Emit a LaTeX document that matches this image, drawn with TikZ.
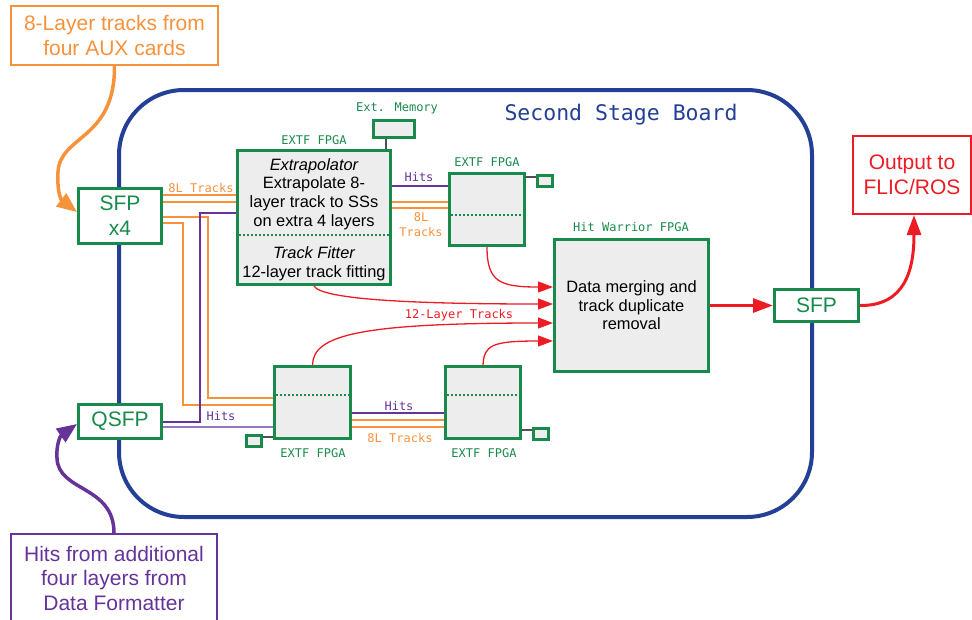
\documentclass[tikz,border=0pt]{standalone}
\usepackage{fontspec}
\setmainfont{Liberation Sans}
\newfontfamily\codefont{DejaVu Sans Mono}
\usetikzlibrary{arrows.meta}
\definecolor{boardblue}{RGB}{35,64,150}
\definecolor{chipgreen}{RGB}{24,138,76}
\definecolor{chipgray}{RGB}{237,237,237}
\definecolor{trackorange}{RGB}{246,146,60}
\definecolor{hitpurple}{RGB}{102,51,153}
\definecolor{hitlilac}{RGB}{150,120,190}
\definecolor{outred}{RGB}{237,28,36}
\definecolor{memgray}{RGB}{80,80,80}
\tikzset{
  board frame/.style={
    draw=boardblue,
    line width=4pt,
    rounded corners=65pt
  },
  fpga box/.style={
    draw=chipgreen,
    fill=chipgray,
    line width=3pt,
    inner sep=0pt
  },
  port box/.style={
    draw=chipgreen,
    fill=white,
    line width=3pt,
    inner sep=0pt,
    text=chipgreen,
    align=center,
    font=\fontsize{21}{25}\selectfont
  },
  mem box/.style={
    draw=chipgreen,
    fill=chipgray,
    line width=3pt,
    inner sep=0pt,
    minimum width=15pt,
    minimum height=11pt
  },
  note box/.style={
    line width=2pt,
    inner sep=0pt,
    align=center,
    font=\fontsize{21}{24.5}\selectfont
  },
  chip label/.style={
    text=chipgreen,
    font=\codefont\fontsize{12}{14}\selectfont
  },
  link label/.style={
    font=\codefont\fontsize{12}{15}\selectfont,
    align=center
  },
  chip text/.style={
    align=center,
    font=\fontsize{16.4}{18.6}\selectfont
  },
  split line/.style={
    draw=chipgreen,
    line width=2.5pt,
    dash pattern=on 2pt off 2pt,
    shorten <=3pt,
    shorten >=3pt
  },
  track line/.style={
    draw=trackorange,
    line width=1.5pt
  },
  hit line/.style={
    draw=hitpurple,
    line width=1.2pt
  },
  mem link/.style={
    draw=memgray,
    line width=2pt
  },
  feed arrow/.style={
    draw=outred,
    line width=1.3pt,
    -{Triangle[length=15pt,width=11pt]}
  },
  out arrow/.style={
    draw=outred,
    line width=3pt,
    -{Triangle[length=20pt,width=14pt]}
  },
  in arrow/.style={
    line width=3.5pt,
    -{Triangle[length=20pt,width=16pt]}
  }
}
\begin{document}
\begin{tikzpicture}[x=1pt,y=-1pt]
  \useasboundingbox (0,0) rectangle (972,619);

  % ---------- board ----------
  \draw[board frame] (119,90) rectangle (812,517);
  \node[text=boardblue, font=\codefont\fontsize{21.5}{24}\selectfont]
    (title) at (621,115) {Second Stage Board};

  % ---------- outside notes ----------
  \node[note box, draw=trackorange, text=trackorange,
    minimum width=207pt, minimum height=59pt]
    (aux) at (114.5,35.5) {8-Layer tracks from\\four AUX cards};
  \node[note box, draw=outred, text=outred,
    minimum width=118pt, minimum height=78pt]
    (flic) at (912,175) {Output to\\FLIC/ROS};
  \node[note box, draw=hitpurple, text=hitpurple,
    minimum width=206pt, minimum height=88pt]
    (dfbox) at (114,578)
    {Hits from additional\\four layers from\\Data Formatter};

  % ---------- ports ----------
  \node[port box, minimum width=83pt, minimum height=55pt]
    (sfpin) at (120,216) {SFP\\x4};
  \node[port box, minimum width=83pt, minimum height=34pt]
    (qsfp) at (120,421.5) {QSFP};
  \node[port box, minimum width=84pt, minimum height=32pt]
    (sfpout) at (816.5,305.5) {SFP};

  % ---------- FPGAs ----------
  \node[fpga box, minimum width=153pt, minimum height=134pt]
    (extrap) at (314,217.5) {};
  \node[fpga box, minimum width=75pt, minimum height=72pt]
    (extfa) at (486.5,209.5) {};
  \node[fpga box, minimum width=76pt, minimum height=72pt]
    (extfb) at (312.5,402.5) {};
  \node[fpga box, minimum width=75pt, minimum height=72pt]
    (extfc) at (483,402.5) {};
  \node[fpga box, chip text, minimum width=154pt, minimum height=132pt]
    (hw) at (631.5,305.5) {Data merging and\\track duplicate\\removal};

  \node[chip text] (extraptext) at (314,194)
    {\itshape Extrapolator\\Extrapolate 8-\\layer track to SSs\\on extra 4 layers};
  \node[chip text] (fittext) at (314,263.5)
    {\itshape Track Fitter\\12-layer track fitting};

  \draw[split line] (extrap.west |- 0,235) -- (extrap.east |- 0,235);
  \foreach \fp/\yy in {extfa/215, extfb/395, extfc/395}
    \draw[split line] (\fp.west |- 0,\yy) -- (\fp.east |- 0,\yy);

  % ---------- memories ----------
  \node[mem box, minimum width=41pt, minimum height=17pt]
    (extmem) at (394,129) {};
  \node[mem box] (mema) at (545,181) {};
  \node[mem box] (memb) at (253.5,441) {};
  \node[mem box] (memc) at (541,434) {};

  \draw[mem link] (extmem.south -| 386,0) -- (extrap.north -| 386,0);
  \draw[mem link] (extfa.east |- 0,177) -- (mema.west |- 0,177);
  \draw[mem link] (extfb.west |- 0,437) -- (memb.east |- 0,437);
  \draw[mem link] (extfc.east |- 0,430) -- (memc.west |- 0,430);

  % ---------- chip labels ----------
  \node[chip label] at (397,108) {Ext. Memory};
  \node[chip label] at (314,140) {EXTF FPGA};
  \node[chip label] at (487,162) {EXTF FPGA};
  \node[chip label] at (631,227) {Hit Warrior FPGA};
  \node[chip label] at (313,453) {EXTF FPGA};
  \node[chip label] at (484,453) {EXTF FPGA};

  % ---------- 8L tracks ----------
  \draw[track line] (sfpin.east |- 0,195) -- (extrap.west |- 0,195);
  \draw[track line] (sfpin.east |- 0,202) -- (extrap.west |- 0,202);
  \draw[track line] (extrap.east |- 0,202) -- (extfa.west |- 0,202);
  \draw[track line] (extrap.east |- 0,208) -- (extfa.west |- 0,208);
  \draw[track line] (sfpin.east |- 0,217) -- (208,217) |- (extfb.west |- 0,398);
  \draw[track line] (sfpin.east |- 0,223) -- (183,223) |- (extfb.west |- 0,405);
  \draw[track line] (extfb.east |- 0,420) -- (extfc.west |- 0,420);
  \draw[track line] (extfb.east |- 0,427) -- (extfc.west |- 0,427);

  % ---------- hits ----------
  \draw[hit line] (qsfp.east |- 0,422) -- (200,422) |- (extrap.west |- 0,213);
  \draw[hit line, draw=hitlilac, line width=2pt]
    (qsfp.east |- 0,427) -- (extfb.west |- 0,427);
  \draw[hit line] (extrap.east |- 0,186) -- (extfa.west |- 0,186);
  \draw[hit line] (extfb.east |- 0,413) -- (extfc.west |- 0,413);

  \node[link label, text=trackorange] at (201,188) {8L Tracks};
  \node[link label, text=trackorange] at (421,225) {8L\\Tracks};
  \node[link label, text=trackorange] at (400,438) {8L Tracks};
  \node[link label, text=hitpurple] at (419,177) {Hits};
  \node[link label, text=hitpurple] at (221,416) {Hits};
  \node[link label, text=hitpurple] at (399,406) {Hits};
  \node[link label, text=outred] at (459,315) {12-Layer Tracks};

  % ---------- 12-layer tracks ----------
  \draw[feed arrow] (extfa.south -| 487,0)
    .. controls (487,282) and (500,287) .. (hw.west |- 0,287);
  \draw[feed arrow] (extrap.south)
    .. controls (322,300) and (420,304) .. (hw.west |- 0,304);
  \draw[feed arrow] (extfb.north)
    .. controls (313,335) and (360,323) .. (hw.west |- 0,323);
  \draw[feed arrow] (extfc.north)
    .. controls (484,345) and (492,341) .. (hw.west |- 0,341);

  \draw[out arrow] (hw.east |- sfpout.west) -- (sfpout.west);
  \draw[out arrow] (sfpout.east)
    .. controls (905,306) and (914,270) .. (flic.south -| 914,0);

  % ---------- inputs ----------
  \draw[in arrow, draw=trackorange] (aux.south)
    .. controls (115,140) and (60,135) .. (58,172)
    .. controls (57,188) and (60,199) .. (sfpin.west |- 0,212);
  \draw[in arrow, draw=hitpurple] (dfbox.north)
    .. controls (114,485) and (58,492) .. (57,458)
    .. controls (56,446) and (60,436) .. (qsfp.west |- 0,424);

\end{tikzpicture}
\end{document}
